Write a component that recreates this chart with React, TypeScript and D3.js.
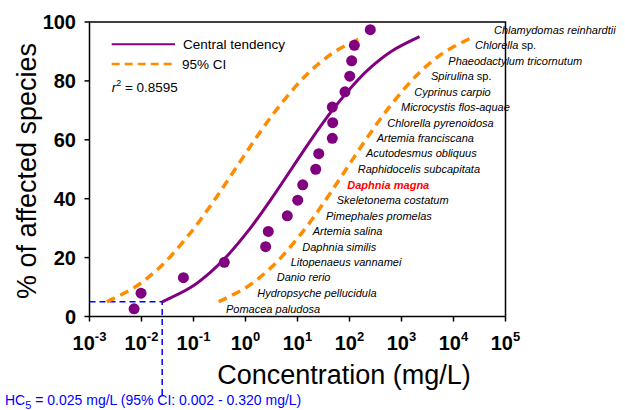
import * as d3 from "d3";

// species, lowest to highest rank
const species = [
  "Pomacea paludosa",
  "Hydropsyche pellucidula",
  "Danio rerio",
  "Litopenaeus vannamei",
  "Daphnia similis",
  "Artemia salina",
  "Pimephales promelas",
  "Skeletonema costatum",
  "Daphnia magna",
  "Raphidocelis subcapitata",
  "Acutodesmus obliquus",
  "Artemia franciscana",
  "Chlorella pyrenoidosa",
  "Microcystis flos-aquae",
  "Cyprinus carpio",
  "Spirulina sp.",
  "Phaeodactylum tricornutum",
  "Chlorella sp.",
  "Chlamydomas reinhardtii",
];
const speciesConc = [
  0.0072, 0.0098, 0.064, 0.391, 2.44, 2.74, 6.36, 10.1, 12.6, 22.4, 25.6, 46.7,
  47.5, 46.7, 81.9, 101, 110, 124, 251,
];
const speciesPct = [
  2.6, 7.9, 13.2, 18.4, 23.7, 28.9, 34.2, 39.5, 44.7, 50.0, 55.3, 60.5, 65.8,
  71.1, 76.3, 81.6, 86.8, 92.1, 97.4,
];
// where each species name starts (log10 mg/L)
const labelLog = [
  -0.375, 0.227, 0.6, 0.869, 1.092, 1.292, 1.548, 1.754, 1.958, 2.158, 2.317,
  2.523, 2.727, 2.99, 3.246, 3.567, 3.9, 4.413, 4.778,
];
const highlight = "Daphnia magna";

// fitted curves, read at these percent levels
const curvePct = [5, 10, 15, 20, 30, 40, 50, 60, 70, 80, 85, 90, 95];
const centralConc = [
  0.025, 0.0908, 0.211, 0.415, 1.24, 3.16, 7.59, 18.2, 46.5, 139, 272, 634, 2226,
];
const lowerCIConc = [
  0.00215, 0.00755, 0.0176, 0.0345, 0.103, 0.263, 0.631, 1.51, 3.86, 11.5, 22.6,
  52.7, 185,
];
const upperCIConc = [
  0.305, 1.06, 2.46, 4.8, 14.3, 36.1, 86.1, 205, 520, 1545, 3013, 7000, 24300,
];

const hc5 = 0.025;
const xExponents = [-3, -2, -1, 0, 1, 2, 3, 4, 5];
const yTicks = [0, 20, 40, 60, 80, 100];

const purple = "#800080";
const orange = "#FF8C00";
const font = "'Liberation Sans', Arial, sans-serif";

export default function App() {
  const width = 625;
  const height = 410;
  const left = 89.5;
  const right = 505.5;
  const top = 22;
  const bottom = 316.5;

  const x = d3.scaleLog().domain([1e-3, 1e5]).range([left, right]);
  const y = d3.scaleLinear().domain([0, 100]).range([bottom, top]);

  const line = d3
    .line<number[]>()
    .x((d) => x(d[0]))
    .y((d) => y(d[1]))
    .curve(d3.curveCatmullRom.alpha(0.5));

  const pts = (conc: number[]) => conc.map((c, i) => [c, curvePct[i]]);

  return (
    <svg
      width={width}
      height={height}
      style={{ position: "absolute", left: 0, top: 0, background: "#fff" }}
      fontFamily={font}
    >
      {/* frame */}
      <rect
        x={left}
        y={top}
        width={right - left}
        height={bottom - top}
        fill="none"
        stroke="#000"
        strokeWidth={1.5}
      />

      {/* y axis */}
      {yTicks.map((t) => (
        <g key={t}>
          <line x1={left - 5} x2={left} y1={y(t)} y2={y(t)} stroke="#000" strokeWidth={1.5} />
          <text
            x={76}
            y={y(t)}
            dy="0.36em"
            textAnchor="end"
            fontSize={20}
            fontWeight="bold"
          >
            {t}
          </text>
        </g>
      ))}
      <text
        transform={`translate(36,171) rotate(-90)`}
        textAnchor="middle"
        fontSize={27}
      >
        % of affected species
      </text>

      {/* x axis */}
      {xExponents.map((e) => (
        <g key={e}>
          <line
            x1={x(Math.pow(10, e))}
            x2={x(Math.pow(10, e))}
            y1={bottom}
            y2={bottom + 5}
            stroke="#000"
            strokeWidth={1.5}
          />
          <text x={x(Math.pow(10, e))} y={350} textAnchor="middle" fontWeight="bold" fontSize={20}>
            10
            <tspan fontSize={13} dy={-9}>
              {e}
            </tspan>
          </text>
        </g>
      ))}
      <text x={344} y={384} textAnchor="middle" fontSize={27}>
        Concentration (mg/L)
      </text>

      {/* HC5 guide */}
      <path
        d={`M${left},${y(5)}H${x(hc5)}V${396}`}
        fill="none"
        stroke="#0000FF"
        strokeWidth={1.5}
        strokeDasharray="6,4"
      />

      {/* curves */}
      <path d={line(pts(lowerCIConc)) || ""} fill="none" stroke={orange} strokeWidth={3.5} strokeDasharray="9,6" />
      <path d={line(pts(upperCIConc)) || ""} fill="none" stroke={orange} strokeWidth={3.5} strokeDasharray="9,6" />
      <path d={line(pts(centralConc)) || ""} fill="none" stroke={purple} strokeWidth={3} />

      {/* points */}
      {speciesConc.map((c, i) => (
        <circle key={i} cx={x(c)} cy={y(speciesPct[i])} r={5.5} fill={purple} />
      ))}

      {/* species names */}
      {species.map((s, i) => {
        const hl = s === highlight;
        const parts = s.endsWith(" sp.") ? [s.slice(0, -4), " sp."] : [s, ""];
        return (
          <text
            key={s}
            x={x(Math.pow(10, labelLog[i]))}
            y={y(speciesPct[i])}
            dy="0.35em"
            fontSize={11}
            fontStyle="italic"
            fontWeight={hl ? "bold" : "normal"}
            fill={hl ? "#FF0000" : "#000"}
          >
            {parts[0]}
            {parts[1] && <tspan fontStyle="normal">{parts[1]}</tspan>}
          </text>
        );
      })}

      {/* legend */}
      <line x1={111.7} x2={175} y1={44.3} y2={44.3} stroke={purple} strokeWidth={2} />
      <text x={183} y={49.3} fontSize={13.5}>
        Central tendency
      </text>
      <line x1={111.7} x2={175} y1={64} y2={64} stroke={orange} strokeWidth={2.5} strokeDasharray="8,5" />
      <text x={182} y={68.7} fontSize={13.5}>
        95% CI
      </text>
      <text x={111.7} y={91.7} fontSize={13.5}>
        <tspan fontStyle="italic">r</tspan>
        <tspan fontSize={9} dy={-6}>2</tspan>
        <tspan dy={6}> = 0.8595</tspan>
      </text>

      {/* HC5 caption */}
      <text x={5} y={405} fontSize={14} fill="#0000FF">
        HC
        <tspan fontSize={11} dy={4}>5</tspan>
        <tspan dy={-4}> = 0.025 mg/L (95% CI: 0.002 - 0.320 mg/L)</tspan>
      </text>
    </svg>
  );
}
